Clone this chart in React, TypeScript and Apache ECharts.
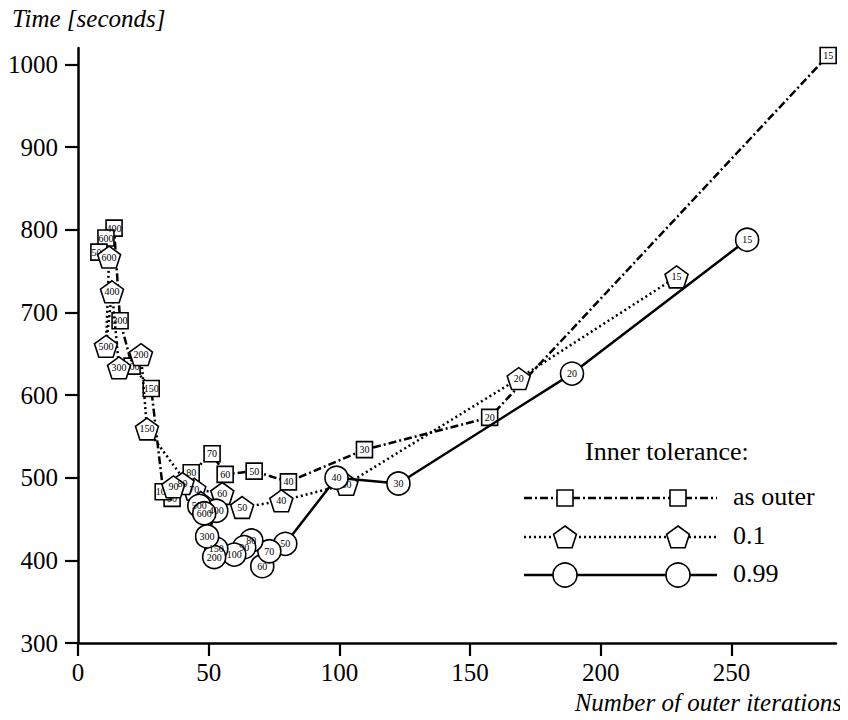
import React, { useEffect, useRef } from "react";
import * as echarts from "echarts";

// Inner tolerance "as outer" (squares, dash-dot)
const outerIters = [287, 157.5, 109.6, 80.5, 67.4, 56.3, 51.3, 43.3, 36, 32.6, 28, 20.7, 16.1, 13.8, 10.7, 8];
const outerTimes = [1011, 573, 534, 495, 508, 504, 529, 506, 475, 483, 608, 635, 690, 802, 790, 773];
const outerLabels = ["15", "20", "30", "40", "50", "60", "70", "80", "90", "100", "150", "200", "300", "400", "600", "500"];

// Inner tolerance 0.1 (pentagons, dotted)
const tol01Iters = [229, 168.6, 102.7, 77.8, 62.8, 55.2, 44.5, 40, 36.5, 47, 26.4, 24.1, 15.7, 13, 10.7, 11.9];
const tol01Times = [743, 620, 492, 472, 464, 481, 486, 493, 489, 470, 559, 649, 633, 725, 659, 767];
const tol01Labels = ["15", "20", "30", "40", "50", "60", "70", "80", "90", "100", "150", "200", "300", "400", "500", "600"];

// Inner tolerance 0.99 (circles, solid)
const tol099Iters = [256, 189, 122.6, 98.9, 79.3, 70.5, 73.2, 66.3, 63.6, 59.8, 52.9, 52.1, 49.4, 52.9, 46.4, 48.3];
const tol099Times = [788, 626, 493, 500, 420, 393, 411, 424, 416, 407, 414, 404, 429, 460, 466, 457];
const tol099Labels = ["15", "20", "30", "40", "50", "60", "70", "80", "90", "100", "150", "200", "300", "400", "500", "600"];

const xTicks = [0, 50, 100, 150, 200, 250];
const yTicks = [300, 400, 500, 600, 700, 800, 900, 1000];

const SERIF = "'Liberation Serif', 'DejaVu Serif', serif";
const PENTAGON = "path://M10,0 L19.51,6.91 L15.88,18.09 L4.12,18.09 L0.49,6.91 Z";

function zip(xs: number[], ys: number[], ls: string[]) {
  return xs.map((x, i) => [x, ys[i], ls[i]]);
}

function pentagonPoints(cx: number, cy: number, r: number) {
  const pts: number[][] = [];
  for (let i = 0; i < 5; i++) {
    const a = -Math.PI / 2 + (i * 2 * Math.PI) / 5;
    pts.push([cx + r * Math.cos(a), cy + r * Math.sin(a) + 1]);
  }
  return pts;
}

export default function App() {
  const ref = useRef<HTMLDivElement>(null);
  useEffect(() => {
    if (!ref.current) return;
    const chart = echarts.init(ref.current, null, { renderer: "svg" });

    const markerLabel = {
      show: true,
      position: "inside",
      formatter: (p: any) => p.data[2],
      fontFamily: SERIF,
      fontSize: 10,
      color: "#000",
      textBorderWidth: 0,
      textBorderColor: "transparent",
    };
    const itemStyle = { color: "#fff", borderColor: "#000", borderWidth: 1.6 };

    const legendY = [498, 537, 575];
    const lx1 = 524, lx2 = 717, m1 = 565, m2 = 678;
    const mk = { fill: "#fff", stroke: "#000", lineWidth: 1.6 };
    const legendGraphics: any[] = [
      {
        type: "text",
        left: 585,
        top: 438,
        style: { text: "Inner tolerance:", font: `26px ${SERIF}`, fill: "#000" },
      },
      {
        type: "line",
        shape: { x1: lx1, y1: legendY[0], x2: lx2, y2: legendY[0] },
        style: { stroke: "#000", lineWidth: 2.5, lineDash: [8, 3, 2, 3] },
      },
      { type: "rect", shape: { x: m1 - 8, y: legendY[0] - 8, width: 16, height: 16 }, style: mk },
      { type: "rect", shape: { x: m2 - 8, y: legendY[0] - 8, width: 16, height: 16 }, style: mk },
      {
        type: "line",
        shape: { x1: lx1, y1: legendY[1], x2: lx2, y2: legendY[1] },
        style: { stroke: "#000", lineWidth: 2.5, lineDash: [2, 3] },
      },
      { type: "polygon", shape: { points: pentagonPoints(m1, legendY[1], 12) }, style: mk },
      { type: "polygon", shape: { points: pentagonPoints(m2, legendY[1], 12) }, style: mk },
      {
        type: "line",
        shape: { x1: lx1, y1: legendY[2], x2: lx2, y2: legendY[2] },
        style: { stroke: "#000", lineWidth: 2.5 },
      },
      { type: "circle", shape: { cx: m1, cy: legendY[2], r: 12 }, style: mk },
      { type: "circle", shape: { cx: m2, cy: legendY[2], r: 12 }, style: mk },
      { type: "text", left: 733, top: legendY[0] - 15, style: { text: "as outer", font: `26px ${SERIF}`, fill: "#000" } },
      { type: "text", left: 733, top: legendY[1] - 15, style: { text: "0.1", font: `26px ${SERIF}`, fill: "#000" } },
      { type: "text", left: 733, top: legendY[2] - 15, style: { text: "0.99", font: `26px ${SERIF}`, fill: "#000" } },
      {
        type: "text",
        left: 12,
        top: 6,
        style: { text: "Time [seconds]", font: `italic 25px ${SERIF}`, fill: "#000" },
      },
      {
        type: "text",
        right: 6,
        top: 690,
        style: { text: "Number of outer iterations", font: `italic 25px ${SERIF}`, fill: "#000" },
      },
    ];

    const axisCommon = {
      axisLine: { show: true, onZero: false, lineStyle: { color: "#000", width: 2.5 } },
      axisTick: { show: true, inside: false, length: 13, lineStyle: { color: "#000", width: 2.2 } },
      splitLine: { show: false },
    };

    chart.setOption({
      animation: false,
      backgroundColor: "#fff",
      grid: { left: 78, right: 12, top: 48, bottom: 77, containLabel: false },
      xAxis: {
        type: "value",
        min: 0,
        max: 290,
        interval: 50,
        ...axisCommon,
        axisLabel: {
          fontFamily: SERIF,
          fontSize: 25,
          color: "#000",
          margin: 17,
          showMaxLabel: false,
          formatter: (v: number) => (xTicks.includes(v) ? String(v) : ""),
        },
      },
      yAxis: {
        type: "value",
        min: 300,
        max: 1020,
        interval: 100,
        ...axisCommon,
        axisLabel: {
          fontFamily: SERIF,
          fontSize: 25,
          color: "#000",
          margin: 20,
          showMaxLabel: false,
          formatter: (v: number) => (yTicks.includes(v) ? String(v) : ""),
        },
      },
      series: [
        {
          name: "as outer",
          type: "line",
          color: "#000",
          data: zip(outerIters, outerTimes, outerLabels),
          symbol: "rect",
          symbolSize: 16,
          showAllSymbol: true,
          lineStyle: { color: "#000", width: 2.5, type: [8, 3, 2, 3] },
          itemStyle,
          label: markerLabel,
          z: 2,
        },
        {
          name: "0.1",
          type: "line",
          color: "#000",
          data: zip(tol01Iters, tol01Times, tol01Labels),
          symbol: PENTAGON,
          symbolSize: 23,
          symbolKeepAspect: true,
          showAllSymbol: true,
          lineStyle: { color: "#000", width: 2.5, type: [2, 3] },
          itemStyle,
          label: markerLabel,
          z: 3,
        },
        {
          name: "0.99",
          type: "line",
          color: "#000",
          data: zip(tol099Iters, tol099Times, tol099Labels),
          symbol: "circle",
          symbolSize: 23,
          showAllSymbol: true,
          lineStyle: { color: "#000", width: 2.5 },
          itemStyle,
          label: markerLabel,
          z: 4,
        },
      ],
      graphic: legendGraphics,
    });
    return () => chart.dispose();
  }, []);
  return <div ref={ref} style={{ width: 848, height: 720, margin: -8 }} />;
}
